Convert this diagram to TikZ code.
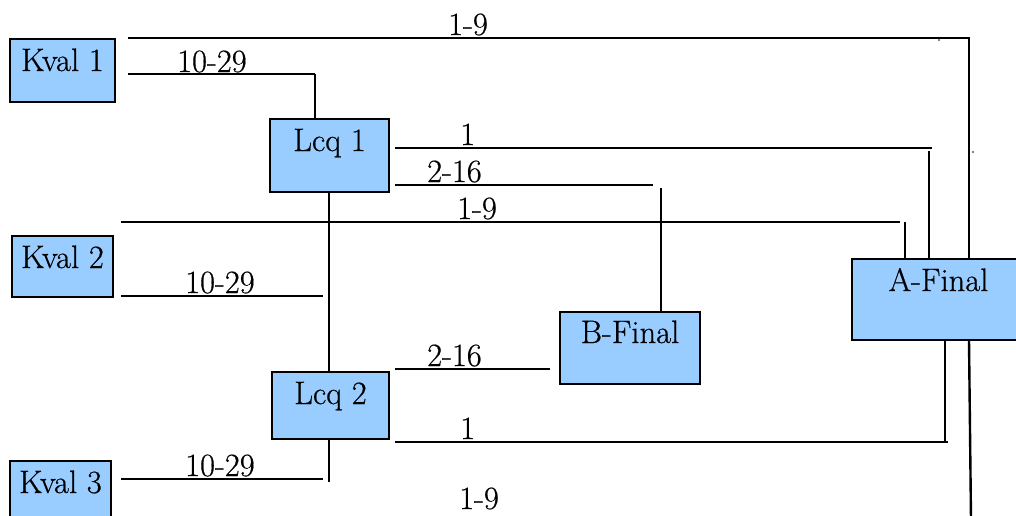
\documentclass[tikz,border=0pt]{standalone}
\usepackage{fontspec}
\newfontfamily\lmx{Latin Modern Roman}[FakeBold=0.5]
\definecolor{boxblue}{HTML}{99CCFF}
\begin{document}
\begin{tikzpicture}[x=1pt,y=-1pt,
  box/.style={draw=black,line width=1.6pt,fill=boxblue,inner sep=0pt,text height=32pt,
    font=\lmx\fontsize{32.5}{38}\selectfont},
  lbl/.style={inner sep=0pt,font=\lmx\fontsize{32.5}{38}\selectfont},
  thk/.style={line width=2.4pt},
  thn/.style={line width=1.5pt}]
\useasboundingbox (0,0) rectangle (1016,515);
\clip (0,0) rectangle (1016,515);
% boxes
\node[box,minimum width=105pt,minimum height=63pt,text depth=31pt] (k1) at (62.5,70.5) {Kval 1};
\node[box,minimum width=119pt,minimum height=73pt,text depth=41pt] (lcq1) at (329.5,155.5) {Lcq 1};
\node[box,minimum width=101pt,minimum height=61pt,text depth=29pt] (k2) at (62.5,266.5) {Kval 2};
\node[box,minimum width=117pt,minimum height=67pt,text depth=35pt] (lcq2) at (330.5,405.5) {Lcq 2};
\node[box,minimum width=101pt,minimum height=64pt,text depth=32pt] (k3) at (60.5,493) {Kval 3};
\node[box,minimum width=140pt,minimum height=72pt,text depth=41pt,text height=31pt] (bf) at (630,348) {B-Final};
\node[box,minimum width=173pt,minimum height=81pt,text depth=49pt] (af) at (938.5,299.5) {A-Final};
% coordinates
\coordinate (a1) at (128,38);
\coordinate (a2) at (969,38);
\coordinate (b1) at (128,74);
\coordinate (b2) at (315,74);
\coordinate (c1) at (395,148);
\coordinate (c2) at (932,148);
\coordinate (c3) at (929,151);
\coordinate (d1) at (395,185);
\coordinate (d2) at (653,185);
\coordinate (d3) at (661,188);
\coordinate (e1) at (121,222);
\coordinate (e2) at (900,222);
\coordinate (e3) at (905,222);
\coordinate (f1) at (121,296);
\coordinate (f2) at (323,296);
\coordinate (g1) at (395,369);
\coordinate (g2) at (550,369);
\coordinate (h1) at (395,442);
\coordinate (h2) at (948,442);
\coordinate (h3) at (945,442);
\coordinate (i1) at (121,479);
\coordinate (i2) at (323,479);
\coordinate (j1) at (329,482);
\coordinate (m1) at (971,520);
% connectors
\draw[thk] (a1) -- (a2) -- (a2 |- af.north);
\draw[thn] (b1) -- (b2);
\draw[thk] (b2) -- (b2 |- lcq1.north);
\draw[thk] (c1) -- (c2);
\draw[thk] (c3) -- (c3 |- af.north);
\draw[thk] (d1) -- (d2);
\draw[thk] (d3) -- (d3 |- bf.north);
\draw[thk] (e1) -- (e2);
\draw[thk] (e3) -- (e3 |- af.north);
\draw[thk] (lcq1.south -| 329,0) -- (lcq2.north -| 329,0);
\draw[thn] (f1) -- (f2);
\draw[thk] (g1) -- (g2);
\draw[thk] (h1) -- (h2);
\draw[thk] (h3) -- (h3 |- af.south);
\draw[thn] (i1) -- (i2);
\draw[thk] (lcq2.south -| j1) -- (j1);
\draw[thk] (af.south -| 969,0) -- (m1);
\fill (939,40) circle (0.9);
\fill (973,152) circle (0.9);
% labels
\node[lbl,anchor=base west] (t1) at (448,35) {1-9};
\node[lbl,anchor=base west] (t2) at (177,72) {10-29};
\node[lbl,anchor=base west] (t3) at (460,145) {1};
\node[lbl,anchor=base west] (t4) at (427,182) {2-16};
\node[lbl,anchor=base west] (t5) at (457,219) {1-9};
\node[lbl,anchor=base west] (t6) at (185,293) {10-29};
\node[lbl,anchor=base west] (t7) at (427,366) {2-16};
\node[lbl,anchor=base west] (t8) at (460,439) {1};
\node[lbl,anchor=base west] (t9) at (185,476) {10-29};
\node[lbl,anchor=base west] (t10) at (459,509) {1-9};
\end{tikzpicture}
\end{document}
